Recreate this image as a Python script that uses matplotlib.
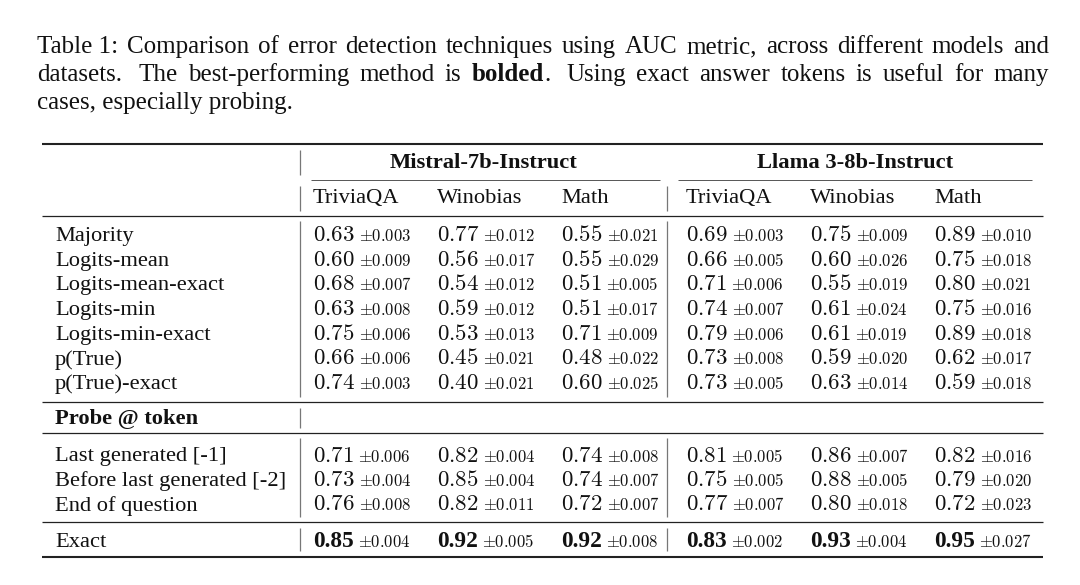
import matplotlib
matplotlib.use("Agg")
import matplotlib.pyplot as plt

plt.rcParams['font.family'] = ['Liberation Serif', 'DejaVu Serif']
plt.rcParams['mathtext.fontset'] = 'cm'

# table contents
models = ['Mistral-7b-Instruct', 'Llama 3-8b-Instruct']
datasets = ['TriviaQA', 'Winobias', 'Math']

methods = ['Majority', 'Logits-mean', 'Logits-mean-exact', 'Logits-min',
           'Logits-min-exact', 'p(True)', 'p(True)-exact']
auc = [[0.63, 0.77, 0.55, 0.69, 0.75, 0.89],
       [0.60, 0.56, 0.55, 0.66, 0.60, 0.75],
       [0.68, 0.54, 0.51, 0.71, 0.55, 0.80],
       [0.63, 0.59, 0.51, 0.74, 0.61, 0.75],
       [0.75, 0.53, 0.71, 0.79, 0.61, 0.89],
       [0.66, 0.45, 0.48, 0.73, 0.59, 0.62],
       [0.74, 0.40, 0.60, 0.73, 0.63, 0.59]]
std = [[0.003, 0.012, 0.021, 0.003, 0.009, 0.010],
       [0.009, 0.017, 0.029, 0.005, 0.026, 0.018],
       [0.007, 0.012, 0.005, 0.006, 0.019, 0.021],
       [0.008, 0.012, 0.017, 0.007, 0.024, 0.016],
       [0.006, 0.013, 0.009, 0.006, 0.019, 0.018],
       [0.006, 0.021, 0.022, 0.008, 0.020, 0.017],
       [0.003, 0.021, 0.025, 0.005, 0.014, 0.018]]

probe_title = 'Probe @ token'
probe_methods = ['Last generated [-1]', 'Before last generated [-2]', 'End of question']
probe_auc = [[0.71, 0.82, 0.74, 0.81, 0.86, 0.82],
             [0.73, 0.85, 0.74, 0.75, 0.88, 0.79],
             [0.76, 0.82, 0.72, 0.77, 0.80, 0.72]]
probe_std = [[0.006, 0.004, 0.008, 0.005, 0.007, 0.016],
             [0.004, 0.004, 0.007, 0.005, 0.005, 0.020],
             [0.008, 0.011, 0.007, 0.007, 0.018, 0.023]]

exact_method = 'Exact'
exact_auc = [0.85, 0.92, 0.92, 0.83, 0.93, 0.95]
exact_std = [0.004, 0.005, 0.008, 0.002, 0.004, 0.027]

caption_lines = [
    [('Table 1:', 0), ('Comparison', 0), ('of', 0), ('error', 0), ('detection', 0),
     ('techniques', 0), ('using', 0), ('AUC', 0), ('metric,', 0), ('across', 0),
     ('different', 0), ('models', 0), ('and', 0)],
    [('datasets.', 0), ('The', 0), ('best-performing', 0), ('method', 0), ('is', 0),
     ('bolded', 1), ('.', 0), ('Using', 0), ('exact', 0), ('answer', 0), ('tokens', 0),
     ('is', 0), ('useful', 0), ('for', 0), ('many', 0)],
]
caption_last = 'cases, especially probing.'

# layout (pixels)
fig = plt.figure(figsize=(10.8, 5.85), dpi=100)
ax = fig.add_axes([0, 0, 1, 1])
ax.set_xlim(0, 1080)
ax.set_ylim(585, 0)
ax.axis('off')
renderer = fig.canvas.get_renderer()

ink = '#111111'
cap_fs = 18
tab_fs = 16.2
num_fs = 16.5
bold_fs = 16.8
pm_fs = 12

# caption, justified
cap_left, cap_right = 37, 1049
cap_base = [53, 81, 109]
for line, yb in zip(caption_lines, cap_base):
    objs = []
    for w, b in line:
        t = ax.text(0, yb, w, fontsize=cap_fs, color=ink, va='baseline',
                    fontweight='bold' if b else 'normal')
        objs.append(t)
    widths = [t.get_window_extent(renderer).width for t in objs]
    weights = []
    for i in range(len(line) - 1):
        nxt = line[i + 1][0]
        if nxt == '.':
            weights.append(0.0)
        elif line[i][0].endswith('.'):
            weights.append(1.6)
        else:
            weights.append(1.0)
    gap = (cap_right - cap_left - sum(widths)) / sum(weights)
    x = cap_left
    for i, t in enumerate(objs):
        t.set_x(x)
        x += widths[i] + (gap * weights[i] if i < len(weights) else 0)
ax.text(cap_left, cap_base[2], caption_last, fontsize=cap_fs, color=ink, va='baseline')

# rules
x0, x1 = 42, 1043
bar1, bar2 = 300, 667
col_x = [313, 437, 561, 686, 810, 934]
label_x = 55

def hrule(y, lw, xa=x0, xb=x1, c='#222222'):
    ax.plot([xa, xb], [y, y], color=c, lw=lw, solid_capstyle='butt')

def vbar(x, ya, yb):
    ax.plot([x, x], [ya, yb], color='#777777', lw=0.9, solid_capstyle='butt')

hrule(144, 1.5)
hrule(180, 0.7, 311, 660, c='#555555')
hrule(180, 0.7, 678, 1032, c='#555555')
hrule(216, 0.9)
hrule(402, 0.9)
hrule(433, 0.9)
hrule(522, 0.9)
hrule(557, 1.5)

vbar(bar1, 150, 175)
vbar(bar1, 186, 211)
vbar(bar2, 186, 211)
vbar(bar1, 221, 397)
vbar(bar2, 221, 397)
vbar(bar1, 408, 428)
vbar(bar1, 438, 517)
vbar(bar2, 438, 517)
vbar(bar1, 528, 551)
vbar(bar2, 528, 551)

# header
ax.text((bar1 + bar2) / 2, 168, models[0], fontsize=tab_fs, fontweight='bold',
        color=ink, ha='center', va='baseline')
ax.text((bar2 + x1) / 2, 168, models[1], fontsize=tab_fs, fontweight='bold',
        color=ink, ha='center', va='baseline')
for j, cx in enumerate(col_x):
    ax.text(cx, 203, datasets[j % 3], fontsize=tab_fs, color=ink, va='baseline')


def cell(x, y, v, s, bold=False):
    if bold:
        t = ax.text(x, y, f'{v:.2f}', fontsize=bold_fs, fontweight='bold',
                    color=ink, va='baseline')
    else:
        t = ax.text(x, y, f'${v:.2f}$', fontsize=num_fs, color=ink, va='baseline')
    w = t.get_window_extent(renderer).width
    ax.text(x + w + 4, y, rf'$\pm{s:.3f}$', fontsize=pm_fs, color=ink, va='baseline')


row_base = [241, 265.7, 290.4, 315.1, 339.8, 364.5, 389.2]
for i, m in enumerate(methods):
    ax.text(label_x, row_base[i], m, fontsize=tab_fs, color=ink, va='baseline')
    for j, cx in enumerate(col_x):
        cell(cx, row_base[i], auc[i][j], std[i][j])

ax.text(label_x, 424, probe_title, fontsize=tab_fs, fontweight='bold', color=ink,
        va='baseline')

probe_base = [461.5, 486, 510.5]
for i, m in enumerate(probe_methods):
    ax.text(label_x, probe_base[i], m, fontsize=tab_fs, color=ink, va='baseline')
    for j, cx in enumerate(col_x):
        cell(cx, probe_base[i], probe_auc[i][j], probe_std[i][j])

ax.text(label_x, 547, exact_method, fontsize=tab_fs, color=ink, va='baseline')
for j, cx in enumerate(col_x):
    cell(cx, 547, exact_auc[j], exact_std[j], bold=True)

fig.savefig('out.png', dpi=100, facecolor='white')
